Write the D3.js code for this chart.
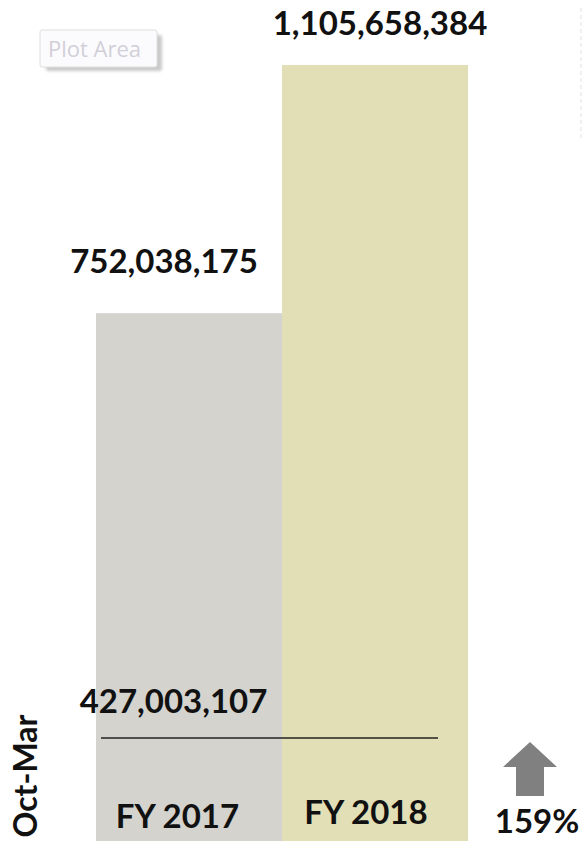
<!DOCTYPE html>
<html><head><meta charset="utf-8">
<script src="https://cdn.jsdelivr.net/npm/d3@7"></script>
<style>body{margin:0;background:#fff}svg{display:block}</style>
</head><body>
<script>
const categories = ["FY 2017", "FY 2018"];
const values = [752038175, 1105658384];
const barColors = ["#d4d3ce", "#e2dfb6"];
const refValue = 427003107;
const periodLabel = "Oct-Mar";
const changeLabel = "159%";

const W = 582, H = 841;
const svg = d3.select("body").append("svg").attr("width", W).attr("height", H);
const font = "Lato, 'Open Sans', sans-serif";
const FS = 33;

const x = d3.scaleBand().domain(categories).range([96, 468]).padding(0);
const y = d3.scaleLinear().domain([0, d3.max(values)]).range([841, 65]);
const fmt = d3.format(",");

// faint dashed line at right
svg.append("line").attr("x1", 581).attr("x2", 581).attr("y1", 8).attr("y2", 140)
  .attr("stroke", "#f0f0f0").attr("stroke-width", 2).attr("stroke-dasharray", "4,3");

svg.selectAll("rect.bar").data(values).join("rect").attr("class", "bar")
  .attr("x", (d, i) => x(categories[i]))
  .attr("width", x.bandwidth())
  .attr("y", d => y(d))
  .attr("height", d => y(0) - y(d))
  .attr("fill", (d, i) => barColors[i]);

svg.selectAll("text.val").data(values).join("text").attr("class", "val")
  .attr("x", (d, i) => [164, 380][i])
  .attr("y", (d, i) => y(d) - [40, 30][i])
  .attr("text-anchor", "middle")
  .attr("font-family", font).attr("font-weight", "bold").attr("font-size", FS)
  .attr("fill", "#111")
  .text(d => fmt(d));

// reference line and label
svg.append("line").attr("x1", 101).attr("x2", 438).attr("y1", 738).attr("y2", 738)
  .attr("stroke", "#222").attr("stroke-width", 1.5);
svg.append("text").attr("x", 173.5).attr("y", 713).attr("text-anchor", "middle")
  .attr("font-family", font).attr("font-weight", "bold").attr("font-size", FS)
  .attr("fill", "#111").text(fmt(refValue));

// category labels
svg.selectAll("text.cat").data(categories).join("text").attr("class", "cat")
  .attr("x", (d, i) => x(d) + x.bandwidth() / 2 + [-11.5, -9][i])
  .attr("y", (d, i) => [828, 824][i])
  .attr("text-anchor", "middle")
  .attr("font-family", font).attr("font-weight", "bold").attr("font-size", FS)
  .attr("fill", "#111").text(d => d);

// rotated period label
svg.append("text").attr("transform", "translate(37,776) rotate(-90)")
  .attr("text-anchor", "middle")
  .attr("font-family", font).attr("font-weight", "bold").attr("font-size", 32)
  .attr("fill", "#111").text(periodLabel);

// arrow
svg.append("path").attr("d", "M530,742 L557,767 L544,767 L544,796 L516,796 L516,767 L503,767 Z")
  .attr("fill", "#808080");
svg.append("text").attr("x", 537).attr("y", 833).attr("text-anchor", "middle")
  .attr("font-family", font).attr("font-weight", "bold").attr("font-size", FS)
  .attr("fill", "#111").text(changeLabel);

// Plot Area tooltip
const defs = svg.append("defs");
defs.append("filter").attr("id", "blur").append("feGaussianBlur").attr("stdDeviation", 1.5);
const tip = svg.append("g");
tip.append("rect").attr("x", 46).attr("y", 35).attr("width", 116).attr("height", 36)
  .attr("fill", "#bdbdbd").attr("opacity", 0.8).attr("rx", 2).attr("filter", "url(#blur)");
tip.append("rect").attr("x", 40).attr("y", 30).attr("width", 117).attr("height", 37)
  .attr("fill", "#fbfbfe").attr("stroke", "#dedede").attr("rx", 2);
tip.append("text").attr("x", 48).attr("y", 57)
  .attr("font-family", "'Open Sans', sans-serif").attr("font-size", 22)
  .attr("fill", "#d2cfd8").text("Plot Area");
</script>
</body></html>
